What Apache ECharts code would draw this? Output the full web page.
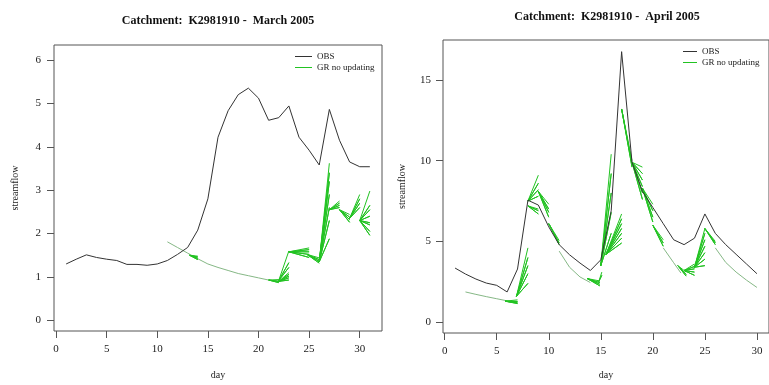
<!DOCTYPE html>
<html>
<head>
<meta charset="utf-8">
<script src="https://cdn.jsdelivr.net/npm/echarts@6/dist/echarts.min.js"></script>
<style>
  html, body { margin: 0; padding: 0; background: #fff; }
  #chart { width: 769px; height: 385px; }
</style>
</head>
<body>
<div id="chart"></div>
<script>
// ---- March 2005 ----
const marchDays = [1, 2, 3, 4, 5, 6, 7, 8, 9, 10, 11, 12, 13, 14, 15, 16, 17, 18, 19, 20, 21, 22, 23, 24, 25, 26, 27, 28, 29, 30, 31];
const marchObs = [1.30, 1.41, 1.51, 1.45, 1.41, 1.38, 1.29, 1.29, 1.27, 1.30, 1.38, 1.52, 1.68, 2.08, 2.8, 4.22, 4.83, 5.2, 5.35, 5.12, 4.61, 4.67, 4.94, 4.22, 3.92, 3.58, 4.86, 4.15, 3.65, 3.54, 3.54];
// main simulated trace (null = gap)
const marchGreenDays = [11, 12, 13, 14, 15, 16, 17, 18, 19, 20, 21, 22];
const marchGreenVals = [1.81, 1.68, 1.55, 1.42, 1.30, 1.22, 1.15, 1.08, 1.03, 0.98, 0.93, 0.90];
// forecast fans: [start day, start value, end day, [end values]]
const marchFans = [
  [13.2, 1.50, 14.0, [1.40, 1.43, 1.46, 1.48]],
  [21.0, 0.93, 22.0, [0.87, 0.90, 0.94]],
  [22.0, 0.90, 23.0, [0.93, 0.98, 1.02, 1.06, 1.10]],
  [22.0, 0.92, 23.0, [1.22, 1.33, 1.60]],
  [23.0, 1.58, 25.0, [1.45, 1.52, 1.58, 1.63, 1.67]],
  [24.8, 1.52, 26.0, [1.32, 1.36, 1.40, 1.44]],
  [26.0, 1.35, 27.0, [1.88, 2.3, 2.6, 2.9, 3.2, 3.4, 3.62]],
  [27.0, 2.55, 28.0, [2.6, 2.65, 2.7, 2.75]],
  [28.0, 2.55, 29.0, [2.26, 2.32, 2.38, 2.44]],
  [29.0, 2.35, 30.0, [2.6, 2.7, 2.8, 2.9]],
  [30.0, 2.3, 31.0, [1.96, 2.05, 2.2, 2.25, 2.4, 2.55, 2.65, 2.98]]
];
const marchXTicks = [0, 5, 10, 15, 20, 25, 30];
const marchYTicks = [0, 1, 2, 3, 4, 5, 6];

// ---- April 2005 ----
const aprilDays = [1, 2, 3, 4, 5, 6, 7, 8, 9, 10, 11, 12, 13, 14, 15, 16, 17, 18, 19, 20, 21, 22, 23, 24, 25, 26, 27, 28, 29, 30];
const aprilObs = [3.35, 2.98, 2.67, 2.42, 2.28, 1.87, 3.29, 7.55, 7.25, 5.9, 4.8, 4.17, 3.66, 3.2, 3.86, 6.9, 16.75, 9.9, 8.1, 7.1, 6.1, 5.1, 4.8, 5.2, 6.7, 5.5, 4.8, 4.2, 3.6, 3.0];
const aprilGreenDays = [2, 3, 4, 5, 6, 6.8, null, 11, 12, 13, 14, null, 21, 22, 22.7, null, 26, 27, 28, 29, 30];
const aprilGreenVals = [1.87, 1.72, 1.58, 1.45, 1.32, 1.22, null, 4.4, 3.4, 2.8, 2.45, null, 4.6, 3.68, 3.04, null, 4.6, 3.7, 3.1, 2.6, 2.15];
const aprilFans = [
  [5.8, 1.3, 7.0, [1.15, 1.2, 1.28, 1.38]],
  [6.9, 1.6, 8.0, [2.4, 3.0, 3.5, 4.0, 4.6]],
  [8.0, 7.5, 9.0, [7.8, 8.2, 8.6, 9.1]],
  [8.0, 7.2, 9.0, [6.7, 6.9, 7.0]],
  [9.0, 8.1, 10.0, [6.5, 6.8, 7.0, 7.3]],
  [10.0, 6.1, 11.0, [4.8, 4.9, 5.05]],
  [13.7, 2.7, 14.9, [2.25, 2.35, 2.45, 2.55]],
  [14.8, 2.5, 15.1, [2.9, 3.1]],
  [15.0, 3.5, 16.0, [5.5, 6.8, 8.0, 9.2, 10.4]],
  [15.5, 4.2, 17.0, [4.9, 5.2, 5.5, 5.8, 6.1, 6.4, 6.7]],
  [17.0, 13.2, 18.0, [9.6, 9.8, 10.0]],
  [18.0, 9.9, 19.0, [7.6, 8.0, 8.4, 8.8, 9.2, 9.6]],
  [19.0, 8.3, 20.0, [6.2, 6.5, 6.9, 7.3]],
  [20.0, 6.0, 21.0, [4.7, 4.9, 5.1]],
  [22.4, 3.5, 23.2, [2.85, 2.95, 3.1]],
  [23.0, 3.2, 24.0, [2.9, 3.1, 3.3, 3.45, 3.6]],
  [24.0, 3.4, 25.0, [3.5, 3.9, 4.3, 4.7, 5.1, 5.5, 5.8]],
  [25.0, 5.8, 26.0, [4.8, 4.9, 5.0]]
];
const aprilXTicks = [0, 5, 10, 15, 20, 25, 30];
const aprilYTicks = [0, 5, 10, 15];

const FONT = "'Liberation Serif', 'DejaVu Serif', serif";
const OBS_COLOR = "#333";
const FAN_COLOR = "#22c322";
const PATH_COLOR = "#86b886";

function pairs(xs, ys) {
  return xs.map((x, i) => (x === null || ys[i] === null ? [NaN, NaN] : [x, ys[i]]));
}

// zig-zag through the start point so every member of a fan is drawn
function fanData(fans) {
  let out = [];
  fans.forEach((f) => {
    f[3].forEach((end) => {
      out.push([f[0], f[1]]);
      out.push([f[2], end]);
    });
    out.push([NaN, NaN]);
  });
  return out;
}

function xAxis(idx, min, max, ticks, gap) {
  return {
    type: "value", gridIndex: idx, min: min, max: max,
    name: "day", nameLocation: "middle", nameGap: gap,
    nameTextStyle: { fontFamily: FONT, fontSize: 10, color: "#222" },
    axisLine: { show: false, onZero: false },
    splitLine: { show: false },
    axisTick: { show: true, inside: false, customValues: ticks, length: 7, lineStyle: { color: "#555" } },
    axisLabel: { customValues: ticks, margin: 13, fontFamily: FONT, fontSize: 11, color: "#222" },
  };
}

function yAxis(idx, min, max, ticks, gap, margin) {
  return {
    type: "value", gridIndex: idx, min: min, max: max,
    name: "streamflow", nameLocation: "middle", nameGap: gap,
    nameTextStyle: { fontFamily: FONT, fontSize: 10, color: "#222" },
    axisLine: { show: false, onZero: false },
    splitLine: { show: false },
    axisTick: { show: true, inside: false, customValues: ticks, length: 7, lineStyle: { color: "#555" } },
    axisLabel: { customValues: ticks, margin: margin, fontFamily: FONT, fontSize: 11, color: "#222" },
  };
}

function legend(left, top, w) {
  return {
    left: left, top: top, orient: "vertical", padding: 0,
    data: ["OBS", "GR no updating"],
    icon: "rect", itemWidth: w, itemHeight: 1, itemGap: 2,
    selectedMode: false,
    textStyle: { fontFamily: FONT, fontSize: 9, color: "#222", lineHeight: 9 },
  };
}

function lineSeries(name, idx, data, color, z) {
  return {
    name: name, type: "line", xAxisIndex: idx, yAxisIndex: idx,
    data: data, color: color, showSymbol: false, symbol: "none",
    connectNulls: false, silent: true, z: z,
    lineStyle: { width: 1, color: color },
  };
}

const option = {
  animation: false,
  backgroundColor: "#fff",
  title: [
    { text: "Catchment:  K2981910 -  March 2005", left: 218, top: 15, padding: 0, textAlign: "center",
      textStyle: { fontFamily: FONT, fontSize: 12, fontWeight: "bold", color: "#111" } },
    { text: "Catchment:  K2981910 -  April 2005", left: 607, top: 11, padding: 0, textAlign: "center",
      textStyle: { fontFamily: FONT, fontSize: 12, fontWeight: "bold", color: "#111" } },
  ],
  legend: [legend(295, 52, 17), legend(683, 47, 14)],
  grid: [
    { left: 54, top: 45, width: 328, height: 292, show: true, borderColor: "#555", borderWidth: 1 },
    { left: 443, top: 40, width: 329, height: 294, show: true, borderColor: "#555", borderWidth: 1 },
  ],
  xAxis: [xAxis(0, -0.2, 32.2, marchXTicks, 39), xAxis(1, -0.16, 31.16, aprilXTicks, 37)],
  yAxis: [yAxis(0, -0.244, 6.344, marchYTicks, 34, 13), yAxis(1, -0.672, 17.472, aprilYTicks, 36, 12)],
  series: [
    lineSeries("GR no updating", 0, fanData(marchFans), FAN_COLOR, 3),
    lineSeries("GR trace March", 0, pairs(marchGreenDays, marchGreenVals), PATH_COLOR, 2),
    lineSeries("OBS", 0, pairs(marchDays, marchObs), OBS_COLOR, 4),
    lineSeries("GR no updating", 1, fanData(aprilFans), FAN_COLOR, 3),
    lineSeries("GR trace April", 1, pairs(aprilGreenDays, aprilGreenVals), PATH_COLOR, 2),
    lineSeries("OBS", 1, pairs(aprilDays, aprilObs), OBS_COLOR, 4),
  ],
};

const chart = echarts.init(document.getElementById("chart"));
chart.setOption(option);
</script>
</body>
</html>
